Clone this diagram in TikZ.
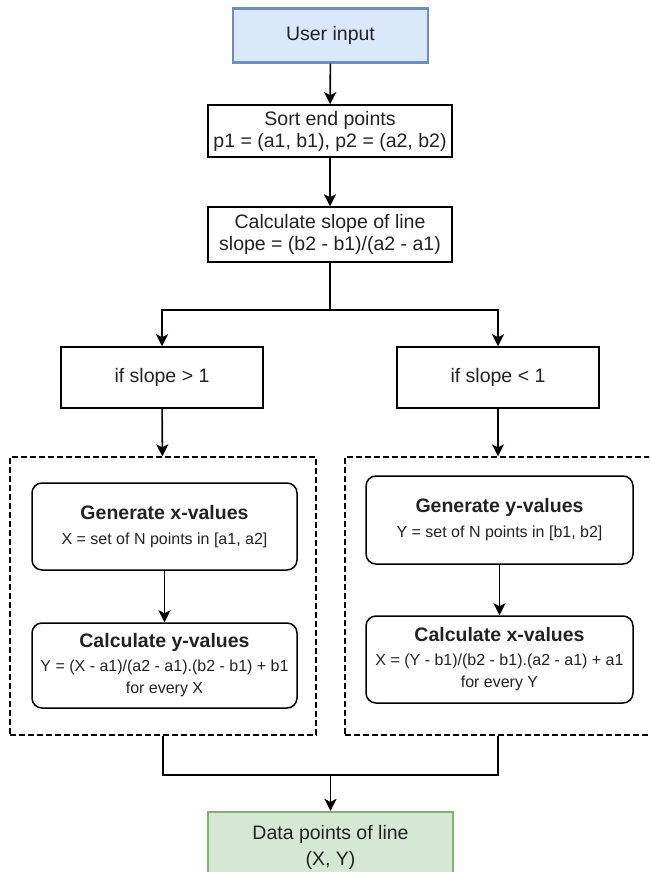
\documentclass[tikz,border=0pt]{standalone}
\usepackage{fontspec}
\setmainfont{Liberation Sans}
\usetikzlibrary{arrows.meta}
\definecolor{bluefill}{HTML}{DAE8FC}
\definecolor{bluedraw}{HTML}{6C8EBF}
\definecolor{greenfill}{HTML}{D5E8D4}
\definecolor{greendraw}{HTML}{82B366}
\definecolor{txt}{HTML}{222222}
\begin{document}
\begin{tikzpicture}[x=1pt,y=-1pt,
  box/.style={draw=black, line width=1.5pt, rectangle, align=center, inner sep=0pt,
    font=\fontsize{19.5}{22}\selectfont, text=txt},
  rbox/.style={box, rounded corners=10pt, font=\fontsize{16}{25}\selectfont},
  grp/.style={draw=black, line width=1.3pt, dash pattern=on 6pt off 3pt, rectangle, inner sep=0pt},
  arr/.style={-{Stealth[length=12pt,width=12pt,inset=3pt]}, line width=1.6pt},
  ln/.style={line width=1.6pt}]
\useasboundingbox (0,0) rectangle (649,872);
\clip (0,0) rectangle (649,872);

\node[box, draw=bluedraw, fill=bluefill, line width=2.2pt, minimum width=195pt, minimum height=54pt] (user) at (330.5,35.5) {User input};
\node[box, minimum width=244pt, minimum height=52pt] (sort) at (330,131) {Sort end points\\p1 = (a1, b1), p2 = (a2, b2)};
\node[box, minimum width=244pt, minimum height=55pt] (calc) at (330,234.5) {Calculate slope of line\\slope = (b2 - b1)/(a2 - a1)};
\node[box, minimum width=202pt, minimum height=61pt] (if1) at (162,377.5) {if slope > 1};
\node[box, minimum width=202pt, minimum height=61pt] (if2) at (498,377.5) {if slope < 1};

\node[grp, minimum width=306pt, minimum height=278pt] (g1) at (163,596) {};
\node[grp, minimum width=306pt, minimum height=278pt] (g2) at (498,596) {};

\node[rbox, minimum width=265pt, minimum height=87pt] (gx) at (164.5,526.5)
  {{\fontsize{19.5}{25}\selectfont\bfseries Generate x-values}\\X = set of N points in [a1, a2]};
\node[rbox, minimum width=265pt, minimum height=85pt] (cy) at (164.5,665.5)
  {{\fontsize{19.5}{25}\selectfont\bfseries Calculate y-values}\\[-1pt]Y = (X - a1)/(a2 - a1).(b2 - b1) + b1\\[-3pt]for every X};
\node[rbox, minimum width=267pt, minimum height=88pt] (gy) at (499.5,520)
  {{\fontsize{19.5}{25}\selectfont\bfseries Generate y-values}\\Y = set of N points in [b1, b2]};
\node[rbox, minimum width=267pt, minimum height=87pt] (cx) at (499.5,659.5)
  {{\fontsize{19.5}{25}\selectfont\bfseries Calculate x-values}\\[-1pt]X = (Y - b1)/(b2 - b1).(a2 - a1) + a1\\[-3pt]for every Y};

\node[box, draw=greendraw, fill=greenfill, line width=2.2pt, minimum width=245pt, minimum height=70pt,
  font=\fontsize{19.5}{26}\selectfont] (out) at (330.5,847) {Data points of line\\(X, Y)};

\coordinate (m) at (330.5,775);

\draw[arr] (user) -- (sort);
\draw[arr] (sort) -- (calc);
\draw[arr] (calc.south) -- ++(0,47) -| (if1.north);
\draw[arr] (calc.south) -- ++(0,47) -| (if2.north);
\draw[arr] (if1) -- (g1);
\draw[arr] (if2) -- (g2);
\draw[arr] (gx) -- (cy);
\draw[arr] (gy) -- (cx);
\draw[ln] (g1.south) -- (g1.south |- m) -- (m);
\draw[ln] (g2.south) -- (g2.south |- m) -- (m);
\draw[arr] (m) -- (out);
\end{tikzpicture}
\end{document}
